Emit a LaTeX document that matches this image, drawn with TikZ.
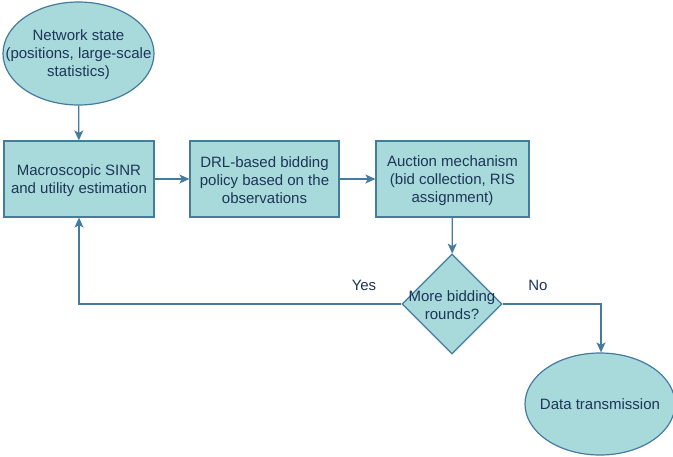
\documentclass[tikz,border=0pt]{standalone}
\usepackage{fontspec}
\setmainfont{Liberation Sans}
\usetikzlibrary{shapes.geometric,arrows.meta}
\definecolor{fillc}{HTML}{A8DADC}
\definecolor{linec}{HTML}{457B9D}
\definecolor{textc}{HTML}{1D3557}
\tikzset{
  base/.style={draw=linec, fill=fillc, line width=1.2pt, text=textc, align=center,
    font=\fontsize{15}{18}\selectfont, inner sep=0pt},
  boxnode/.style={base, rectangle, minimum width=150pt, minimum height=76pt},
  ellnode/.style={base, ellipse, minimum width=151pt, minimum height=103pt},
  dianode/.style={base, diamond, minimum width=100pt, minimum height=100pt},
  txt/.style={text=textc, align=center, font=\fontsize{15}{18}\selectfont, inner sep=0pt},
  conn/.style={draw=linec, line width=1.2pt, -{Stealth[length=10pt,width=9pt,inset=2.5pt]}},
}
\begin{document}
\begin{tikzpicture}[x=1pt,y=-1pt]
\useasboundingbox (0,0) rectangle (673,456);
\node[ellnode] (net) at (78.5,53.5) {};
\node[txt] (nettxt) at (78.5,55) {Network state\\(positions, large-scale\\statistics)};
\node[boxnode] (sinr) at (79,179) {};
\node[txt] (sinrtxt) at (79,180.5) {Macroscopic SINR\\and utility estimation};
\node[boxnode, minimum width=149pt] (drl) at (264.5,179) {};
\node[txt] (drltxt) at (264.5,180.5) {DRL-based bidding\\policy based on the\\observations};
\node[boxnode, minimum width=153pt] (auc) at (452.5,179) {};
\node[txt] (auctxt) at (452.5,180.5) {Auction mechanism\\(bid collection, RIS\\assignment)};
\node[dianode] (dec) at (452,304) {};
\node[txt] (dectxt) at (452,305) {More bidding\\rounds?};
\node[ellnode, minimum width=150pt, minimum height=102pt] (data) at (600,404) {};
\node[txt] (datatxt) at (600,404) {Data transmission};
\coordinate (yesc) at (79,304);
\coordinate (noc) at (601,304);
\node[txt] (yes) at (364,285) {Yes};
\node[txt] (no) at (538,285) {No};
\draw[conn] (net) -- (sinr);
\draw[conn] (sinr) -- (drl);
\draw[conn] (drl) -- (auc);
\draw[conn] (auc) -- (dec);
\draw[conn] (dec.west) -- (yesc) -- (sinr.south);
\draw[conn] (dec.east) -- (noc) -- (data.north -| noc);
\end{tikzpicture}
\end{document}
